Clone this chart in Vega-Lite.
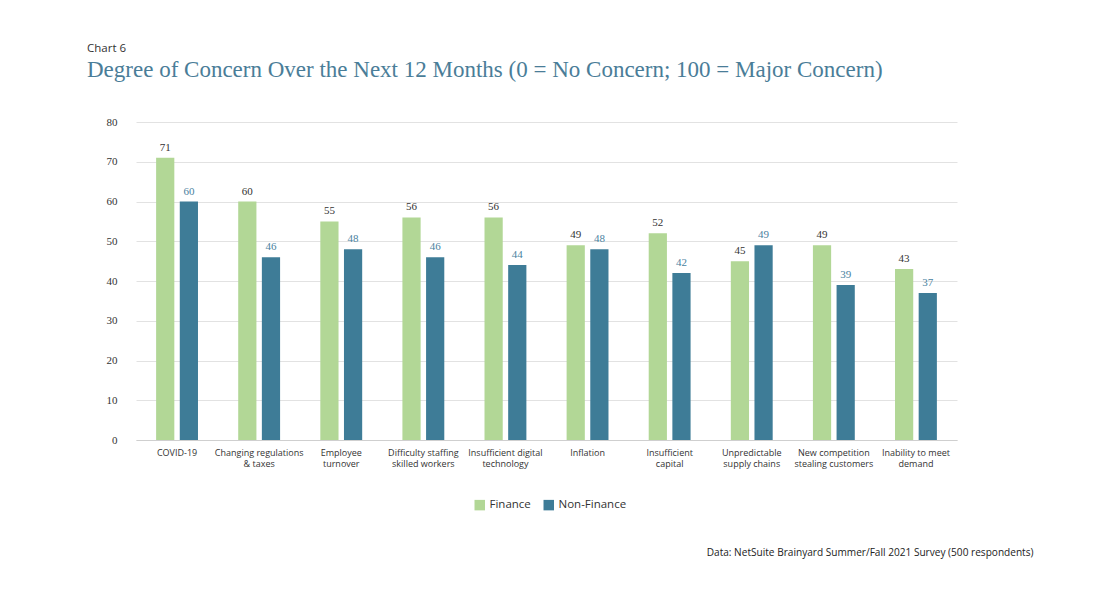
{
  "$schema": "https://vega.github.io/schema/vega-lite/v6.json",
  "autosize": {"type": "none"},
  "width": 821,
  "height": 318,
  "padding": {"left": 136, "top": 122, "right": 140, "bottom": 158},
  "background": "white",
  "title": {
    "text": "Chart 6",
    "subtitle": "Degree of Concern Over the Next 12 Months (0 = No Concern; 100 = Major Concern)",
    "anchor": "start",
    "frame": "group",
    "dx": -49,
    "offset": 34,
    "font": "Open Sans",
    "fontSize": 11.5,
    "fontWeight": "normal",
    "color": "#333333",
    "subtitleFont": "Liberation Serif",
    "subtitleFontSize": 23,
    "subtitleColor": "#4a7d98",
    "subtitlePadding": 5
  },
  "data": {
    "values": [
      {"concern": "COVID-19", "group": "Finance", "score": 71},
      {"concern": "COVID-19", "group": "Non-Finance", "score": 60},
      {"concern": "Changing regulations|& taxes", "group": "Finance", "score": 60},
      {"concern": "Changing regulations|& taxes", "group": "Non-Finance", "score": 46},
      {"concern": "Employee|turnover", "group": "Finance", "score": 55},
      {"concern": "Employee|turnover", "group": "Non-Finance", "score": 48},
      {"concern": "Difficulty staffing|skilled workers", "group": "Finance", "score": 56},
      {"concern": "Difficulty staffing|skilled workers", "group": "Non-Finance", "score": 46},
      {"concern": "Insufficient digital|technology", "group": "Finance", "score": 56},
      {"concern": "Insufficient digital|technology", "group": "Non-Finance", "score": 44},
      {"concern": "Inflation", "group": "Finance", "score": 49},
      {"concern": "Inflation", "group": "Non-Finance", "score": 48},
      {"concern": "Insufficient|capital", "group": "Finance", "score": 52},
      {"concern": "Insufficient|capital", "group": "Non-Finance", "score": 42},
      {"concern": "Unpredictable|supply chains", "group": "Finance", "score": 45},
      {"concern": "Unpredictable|supply chains", "group": "Non-Finance", "score": 49},
      {"concern": "New competition|stealing customers", "group": "Finance", "score": 49},
      {"concern": "New competition|stealing customers", "group": "Non-Finance", "score": 39},
      {"concern": "Inability to meet|demand", "group": "Finance", "score": 43},
      {"concern": "Inability to meet|demand", "group": "Non-Finance", "score": 37}
    ]
  },
  "encoding": {
    "x": {
      "field": "concern",
      "type": "nominal",
      "sort": null,
      "scale": {"paddingInner": 0.49, "paddingOuter": 0.245},
      "axis": {
        "title": "Data: NetSuite Brainyard Summer/Fall 2021 Survey (500 respondents)",
        "titleFont": "Open Sans",
        "titleFontSize": 10.1,
        "titleFontWeight": "normal",
        "titleColor": "#222222",
        "titleAnchor": "start",
        "titleAlign": "right",
        "titleBaseline": "alphabetic",
        "titleX": 897,
        "titleY": 115,
        "labelExpr": "split(datum.label, '|')",
        "labelAngle": 0,
        "labelFont": "Open Sans",
        "labelFontSize": 9,
        "labelColor": "#333333",
        "labelLineHeight": 11,
        "labelPadding": 8,
        "ticks": false,
        "domainColor": "#cfcfcf"
      }
    },
    "xOffset": {
      "field": "group",
      "type": "nominal",
      "scale": {"paddingInner": 0.23, "paddingOuter": 0}
    },
    "y": {
      "field": "score",
      "type": "quantitative",
      "scale": {"domain": [0, 80]},
      "axis": {
        "title": null,
        "values": [0, 10, 20, 30, 40, 50, 60, 70, 80],
        "domain": false,
        "ticks": false,
        "gridColor": "#e2e2e2",
        "labelFont": "Liberation Serif",
        "labelFontSize": 11,
        "labelColor": "#333333",
        "labelPadding": 19
      }
    }
  },
  "layer": [
    {
      "mark": {"type": "bar"},
      "encoding": {
        "color": {
          "field": "group",
          "type": "nominal",
          "scale": {"domain": ["Finance", "Non-Finance"], "range": ["#b2d796", "#3e7c97"]},
          "legend": {
            "title": null,
            "orient": "none",
            "legendX": 338,
            "legendY": 377,
            "direction": "horizontal",
            "symbolType": "square",
            "symbolSize": 110,
            "symbolStrokeWidth": 0,
            "labelFont": "Open Sans",
            "labelFontSize": 11.5,
            "labelColor": "#333333",
            "columnPadding": 12
          }
        }
      }
    },
    {
      "mark": {"type": "text", "baseline": "bottom", "dy": -5, "font": "Liberation Serif", "fontSize": 11},
      "encoding": {
        "text": {"field": "score", "type": "quantitative"},
        "color": {
          "field": "group",
          "type": "nominal",
          "scale": {"domain": ["Finance", "Non-Finance"], "range": ["#333333", "#4a82a0"]},
          "legend": null
        }
      }
    }
  ],
  "resolve": {"scale": {"color": "independent"}},
  "config": {"view": {"stroke": null}}
}
